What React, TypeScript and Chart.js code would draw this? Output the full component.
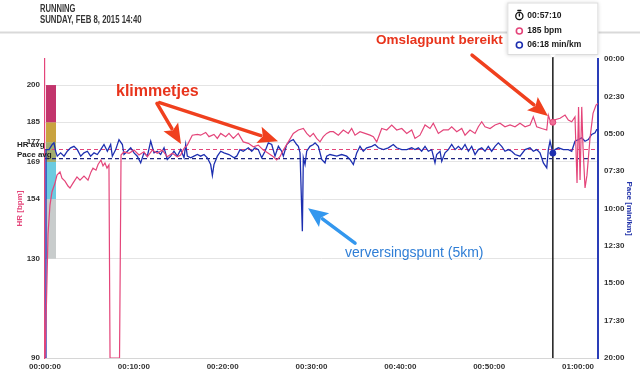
import React, { useEffect, useRef } from "react";
import { Chart, registerables } from "chart.js";

Chart.register(...registerables);

// ---- data ----
const hrMinutes = [0, 0.17, 0.34, 0.56, 0.79, 1.13, 1.35, 1.69, 1.91, 2.25, 2.59, 2.81, 3.15, 3.6, 3.94, 4.39, 4.84, 5.18, 5.4, 5.74, 5.97, 6.3, 6.53, 6.75, 6.98, 7.2, 7.32, 8.39, 8.56, 8.89, 9.46, 10.02, 10.58, 11.14, 11.52, 12.08, 12.64, 13.2, 13.77, 14.33, 14.89, 15.27, 15.65, 16.02, 16.58, 17.15, 17.52, 18.09, 18.46, 19.02, 19.4, 19.78, 20.34, 20.71, 21.2, 21.76, 22.32, 22.89, 23.45, 24.01, 24.58, 25.14, 25.7, 26.08, 26.45, 26.83, 27.39, 27.95, 28.52, 29.08, 29.46, 29.83, 30.21, 30.58, 30.96, 31.33, 31.71, 32.08, 32.46, 33.02, 33.58, 34.14, 34.52, 34.9, 35.46, 36.02, 36.59, 36.96, 37.34, 37.9, 38.47, 39.03, 39.59, 40.16, 40.72, 41.28, 41.65, 42.21, 42.78, 43.34, 43.71, 44.28, 44.84, 45.4, 45.78, 46.35, 46.91, 47.28, 47.84, 48.41, 48.78, 49.16, 49.53, 50.1, 50.66, 51.22, 51.78, 52.35, 52.91, 53.47, 54.04, 54.6, 54.97, 55.35, 55.92, 56.48, 56.66, 56.96, 57.17, 57.41, 57.98, 58.54, 58.91, 59.29, 59.66, 59.89, 60.06, 60.23, 60.42, 60.56, 60.79, 61.01, 61.35, 61.69, 62.03, 62.25];
const hrBpm = [90, 113, 140, 151.6, 157, 160.5, 163.7, 165, 162.5, 161.3, 159.3, 158.5, 160.5, 163, 161.7, 163.3, 161.7, 165, 166.5, 165.7, 168, 169.8, 167.4, 168.6, 166.5, 167.8, 90, 90, 171.8, 173.1, 172.5, 173.8, 171.8, 173.1, 171.1, 173.8, 172.5, 173.8, 171.1, 172.5, 171.1, 171.8, 174.5, 175.8, 179.8, 180.1, 179.8, 180.9, 179.2, 180.1, 178.5, 180.5, 179.2, 180.5, 178.5, 180.5, 177.1, 176.5, 175.1, 175.8, 173.8, 172.5, 171.1, 169.8, 171.1, 173.8, 177.1, 180.5, 181.9, 182.5, 180.5, 179.2, 180.5, 178.5, 177.1, 179.2, 180.5, 181.2, 181.2, 179.8, 181.9, 180.5, 182.5, 179.8, 181.2, 180.5, 179.8, 179.2, 177.1, 182.5, 181.9, 183.9, 181.9, 182.5, 180.5, 181.9, 178.5, 179.8, 183.9, 182.5, 184.6, 180.5, 181.9, 181.9, 183.2, 181.2, 182.5, 179.8, 181.9, 180.5, 183.2, 185.2, 183.2, 182.5, 183.9, 184.6, 183.2, 183.9, 183.2, 184.6, 183.2, 183.9, 187.2, 183.2, 182.5, 181.9, 187.9, 184.5, 185, 186, 186.6, 187.9, 185.9, 185.2, 187.2, 160.5, 191.2, 161.7, 191.2, 175.1, 158.5, 163.7, 178.6, 188.6, 191.9, 192.6];

const paceMinutes = [0, 0.11, 0.45, 0.82, 1.01, 1.2, 1.38, 1.76, 2.14, 2.51, 2.89, 3.26, 3.64, 4.02, 4.39, 4.77, 5.14, 5.52, 5.89, 6.27, 6.64, 7.02, 7.39, 7.58, 7.96, 8.33, 8.71, 8.89, 9.27, 9.65, 10.02, 10.39, 10.77, 11.14, 11.52, 11.9, 12.27, 12.64, 13.02, 13.4, 13.77, 14.15, 14.52, 14.89, 15.27, 15.65, 15.84, 16.02, 16.4, 16.77, 17.15, 17.52, 17.9, 18.27, 18.65, 18.84, 19.02, 19.4, 19.78, 20.15, 20.71, 21.28, 21.58, 21.95, 22.32, 22.89, 23.27, 23.64, 24.01, 24.39, 24.77, 25.14, 25.52, 25.89, 26.27, 26.64, 26.83, 27.21, 27.58, 27.95, 28.33, 28.52, 28.71, 28.97, 29.08, 29.27, 29.46, 29.83, 30.21, 30.4, 30.77, 31.15, 31.52, 31.71, 32.08, 32.84, 33.4, 33.96, 34.33, 34.71, 35.09, 35.46, 35.83, 36.21, 36.78, 37.15, 37.52, 38.09, 38.65, 39.21, 39.59, 40.16, 40.72, 41.28, 41.65, 42.03, 42.4, 42.78, 43.15, 43.53, 43.9, 44.09, 44.47, 44.66, 45.03, 45.4, 45.78, 46.16, 46.53, 46.91, 47.28, 47.66, 48.03, 48.41, 48.78, 49.16, 49.53, 49.9, 50.28, 50.66, 51.03, 51.41, 51.78, 52.16, 52.53, 52.91, 53.47, 54.04, 54.6, 54.97, 55.35, 55.72, 56.1, 56.48, 56.66, 56.85, 57.17, 57.41, 57.79, 58.35, 58.91, 59.29, 59.66, 60.04, 60.42, 60.79, 61.16, 61.54, 61.92, 62.1, 62.25];
const paceMinPerKm = [20, 6.06, 6.06, 5.72, 5.61, 6.17, 6.5, 6.28, 6.5, 6.17, 5.94, 5.84, 6.06, 6.5, 6.28, 6.17, 6.5, 6.28, 6.39, 6.06, 5.72, 6.17, 5.72, 6.5, 6.06, 5.39, 5.72, 6.39, 6.17, 5.94, 6.28, 6.5, 6.95, 6.28, 6.5, 5.5, 6.28, 6.17, 6.39, 5.94, 6.72, 6.5, 6.17, 6.5, 6.06, 6.61, 5.72, 6.5, 6.61, 6.5, 6.39, 6.5, 6.39, 6.61, 7.06, 7.79, 7.06, 6.5, 6.17, 6.28, 6.39, 6.61, 6.5, 6.06, 6.17, 5.94, 6.17, 5.94, 6.06, 6.61, 6.17, 5.61, 5.72, 6.5, 5.84, 6.17, 6.5, 5.72, 5.5, 5.39, 5.72, 5.84, 6.28, 11.52, 6.61, 7.06, 6.17, 5.84, 5.72, 5.61, 5.84, 6.72, 6.95, 6.5, 6.39, 6.5, 6.39, 6.5, 6.72, 7.06, 6.28, 5.84, 6.17, 5.94, 5.84, 5.72, 5.94, 6.06, 5.94, 5.72, 5.94, 6.06, 6.06, 5.94, 6.06, 5.94, 6.17, 5.84, 6.17, 6.06, 6.95, 6.39, 6.17, 6.84, 6.28, 6.06, 5.72, 6.06, 5.84, 6.06, 5.72, 6.17, 5.84, 6.39, 6.06, 5.94, 6.17, 5.84, 6.17, 5.84, 5.61, 5.84, 6.17, 6.06, 6.17, 6.39, 6.5, 6.06, 5.94, 6.17, 6.06, 6.28, 6.95, 7.28, 6.06, 5.5, 6.3, 6.06, 5.94, 6.06, 6.06, 6.17, 5.5, 5.39, 5.27, 5.5, 5.39, 5.05, 4.94, 4.72, 4.72];

const hrTicks = [90, 130, 154, 169, 177, 185, 200];
const paceTicks = [0, 2.5, 5, 7.5, 10, 12.5, 15, 17.5, 20];
const timeTicks = [0, 10, 20, 30, 40, 50, 60];
const zoneBounds = [130, 154, 169, 177, 185, 200];
const zoneColors = ["#c8cccc", "#6ccbe0", "#a3ad6e", "#c9a340", "#c2346c"];

const hrAvg = 174;
const paceAvg = 6 + 40 / 60;
const cursorMinute = 57 + 10 / 60;
const cursorHr = 185;
const cursorPace = 6.3;
const timeMax = 62.25;
const hrMin = 90;
const hrMax = 210.5;

const titleLine1 = "RUNNING";
const titleLine2 = "SUNDAY, FEB 8, 2015 14:40";

// annotations positioned in data units (minutes, bpm)
const noteTexts = [
  { text: "klimmetjes", t: 7.99, hr: 197.2, color: "#e8341c", font: "bold 16px 'Liberation Sans', Arial, sans-serif" },
  { text: "Omslagpunt bereikt", t: 37.26, hr: 218.1, color: "#e8341c", font: "bold 13.5px 'Liberation Sans', Arial, sans-serif" },
  { text: "verversingspunt (5km)", t: 33.77, hr: 132.3, color: "#2f7ed6", font: "14px 'Liberation Sans', Arial, sans-serif" },
];
const noteArrows = [
  { t1: 12.6, hr1: 192.6, t2: 15.31, hr2: 176.2, color: "#f0401e" },
  { t1: 12.9, hr1: 192.9, t2: 26.23, hr2: 177.4, color: "#f0401e" },
  { t1: 48.07, hr1: 212.1, t2: 56.62, hr2: 187.5, color: "#f0401e" },
  { t1: 34.9, hr1: 136.3, t2: 29.61, hr2: 150.4, color: "#3397ee" },
];

const FONT = "'Liberation Sans', Arial, sans-serif";
const HR_COLOR = "#e4457a";
const PACE_COLOR = "#1d2fb0";

const pad2 = (v: number) => String(v).padStart(2, "0");
const fmtTime = (m: number) => {
  const s = Math.round(m * 60);
  return [Math.floor(s / 3600), Math.floor((s % 3600) / 60), s % 60].map(pad2).join(":");
};
const fmtPace = (m: number) => {
  const s = Math.round(m * 60);
  return pad2(Math.floor(s / 60)) + ":" + pad2(s % 60);
};

function drawArrow(ctx: CanvasRenderingContext2D, x1: number, y1: number, x2: number, y2: number, color: string, w: number, hl: number, hw: number) {
  const a = Math.atan2(y2 - y1, x2 - x1);
  const bx = x2 - hl * Math.cos(a);
  const by = y2 - hl * Math.sin(a);
  ctx.strokeStyle = color;
  ctx.lineWidth = w;
  ctx.lineCap = "round";
  ctx.beginPath();
  ctx.moveTo(x1, y1);
  ctx.lineTo(bx + 2 * Math.cos(a), by + 2 * Math.sin(a));
  ctx.stroke();
  ctx.fillStyle = color;
  ctx.beginPath();
  ctx.moveTo(x2, y2);
  ctx.lineTo(bx + (hw / 2) * Math.sin(a), by - (hw / 2) * Math.cos(a));
  ctx.lineTo(bx + 4 * Math.cos(a), by + 4 * Math.sin(a));
  ctx.lineTo(bx - (hw / 2) * Math.sin(a), by + (hw / 2) * Math.cos(a));
  ctx.closePath();
  ctx.fill();
}

const overlayPlugin = {
  id: "overlay",
  beforeDatasetsDraw(chart: any) {
    const { ctx, chartArea, scales } = chart;
    const yHr = scales.yHr;
    ctx.save();
    for (let i = 0; i < zoneColors.length; i++) {
      const yTop = yHr.getPixelForValue(zoneBounds[i + 1]);
      const yBot = yHr.getPixelForValue(zoneBounds[i]);
      ctx.fillStyle = zoneColors[i];
      ctx.fillRect(chartArea.left + 1, yTop, 10, yBot - yTop);
    }
    const cx = scales.x.getPixelForValue(cursorMinute);
    ctx.strokeStyle = "#1a1a1a";
    ctx.lineWidth = 1.5;
    ctx.beginPath();
    ctx.moveTo(cx, chartArea.top - 2);
    ctx.lineTo(cx, chartArea.bottom);
    ctx.stroke();
    ctx.restore();
  },
  afterDraw(chart: any) {
    const { ctx, chartArea, scales } = chart;
    const xs = scales.x;
    const yHr = scales.yHr;
    ctx.save();

    // header
    ctx.fillStyle = "#d9d9d9";
    ctx.fillRect(0, 31.5, 640, 2);
    ctx.fillStyle = "#353535";
    ctx.textBaseline = "middle";
    ctx.textAlign = "left";
    ctx.font = `bold 10px ${FONT}`;
    ctx.save();
    ctx.translate(40, 9.5);
    ctx.scale(0.76, 1);
    ctx.fillText(titleLine1, 0, 0);
    ctx.restore();
    ctx.save();
    ctx.translate(40, 20.5);
    ctx.scale(0.78, 1);
    ctx.fillText(titleLine2, 0, 0);
    ctx.restore();

    // axis titles
    const midY = (chartArea.top + chartArea.bottom) / 2;
    ctx.font = `bold 8px ${FONT}`;
    ctx.textAlign = "center";
    ctx.save();
    ctx.translate(20, midY);
    ctx.rotate(-Math.PI / 2);
    ctx.fillStyle = HR_COLOR;
    ctx.fillText("HR [bpm]", 0, 0);
    ctx.restore();
    ctx.save();
    ctx.translate(629, midY);
    ctx.rotate(Math.PI / 2);
    ctx.fillStyle = "#2233aa";
    ctx.fillText("Pace [min/km]", 0, 0);
    ctx.restore();

    // avg labels
    ctx.textAlign = "left";
    ctx.fillStyle = "#222";
    ctx.font = `bold 8px ${FONT}`;
    ctx.fillText("HR avg", 17, yHr.getPixelForValue(hrAvg) - 5);
    ctx.fillText("Pace avg", 17, scales.yPace.getPixelForValue(paceAvg) - 4);

    // annotation arrows and texts
    for (const a of noteArrows) {
      drawArrow(ctx, xs.getPixelForValue(a.t1), yHr.getPixelForValue(a.hr1), xs.getPixelForValue(a.t2), yHr.getPixelForValue(a.hr2), a.color, 3.5, 20, 17);
    }
    for (const n of noteTexts) {
      ctx.font = n.font;
      ctx.fillStyle = n.color;
      ctx.textAlign = "left";
      ctx.textBaseline = "middle";
      ctx.fillText(n.text, xs.getPixelForValue(n.t), yHr.getPixelForValue(n.hr));
    }

    // tooltip
    const cx = xs.getPixelForValue(cursorMinute);
    const bx = cx - 45.5;
    const by = 2.5;
    const bw = 91;
    const bh = 52.5;
    ctx.save();
    ctx.shadowColor = "rgba(0,0,0,0.18)";
    ctx.shadowBlur = 4;
    ctx.fillStyle = "#fff";
    ctx.fillRect(bx, by, bw, bh);
    ctx.restore();
    ctx.strokeStyle = "#dcdcdc";
    ctx.lineWidth = 1;
    ctx.strokeRect(bx + 0.5, by + 0.5, bw - 1, bh - 1);
    ctx.fillStyle = "#fff";
    ctx.beginPath();
    ctx.moveTo(cx - 3, by + bh - 0.5);
    ctx.lineTo(cx, by + bh + 2.5);
    ctx.lineTo(cx + 3, by + bh - 0.5);
    ctx.closePath();
    ctx.fill();

    // stopwatch icon
    const ix = bx + 12;
    ctx.strokeStyle = "#111";
    ctx.lineWidth = 1.3;
    ctx.beginPath();
    ctx.arc(ix, 16, 3.6, 0, Math.PI * 2);
    ctx.stroke();
    ctx.beginPath();
    ctx.moveTo(ix, 16);
    ctx.lineTo(ix, 13.8);
    ctx.moveTo(ix - 1.5, 10.5);
    ctx.lineTo(ix + 1.5, 10.5);
    ctx.stroke();

    ctx.lineWidth = 1.6;
    ctx.strokeStyle = HR_COLOR;
    ctx.beginPath();
    ctx.arc(ix, 31, 3, 0, Math.PI * 2);
    ctx.stroke();
    ctx.strokeStyle = "#1d2fb0";
    ctx.beginPath();
    ctx.arc(ix, 45, 3, 0, Math.PI * 2);
    ctx.stroke();

    ctx.fillStyle = "#1a1a1a";
    ctx.font = `bold 8.5px ${FONT}`;
    ctx.textAlign = "left";
    ctx.textBaseline = "middle";
    ctx.fillText(fmtTime(cursorMinute), bx + 20, 16);
    ctx.fillText(`${cursorHr} bpm`, bx + 20, 31);
    ctx.fillText(`${fmtPace(cursorPace)} min/km`, bx + 20, 45);

    ctx.restore();
  },
};

export default function App() {
  const ref = useRef<HTMLCanvasElement>(null);
  useEffect(() => {
    const hrData = hrMinutes.map((t, i) => ({ x: t, y: hrBpm[i] }));
    const paceData = paceMinutes.map((t, i) => ({ x: t, y: paceMinPerKm[i] }));
    const tickFont = { family: FONT, size: 8, weight: "bold" as const };
    const chart = new Chart(ref.current as HTMLCanvasElement, {
      type: "line",
      data: {
        datasets: [
          { label: "HR cursor", data: [{ x: cursorMinute, y: cursorHr }], yAxisID: "yHr", showLine: false, pointRadius: 3, pointBackgroundColor: "#ee6f96", pointBorderColor: HR_COLOR, pointBorderWidth: 1, order: 0 },
          { label: "Pace cursor", data: [{ x: cursorMinute, y: cursorPace }], yAxisID: "yPace", showLine: false, pointRadius: 3, pointBackgroundColor: PACE_COLOR, pointBorderColor: PACE_COLOR, pointBorderWidth: 1, order: 0 },
          { label: "HR", data: hrData, yAxisID: "yHr", borderColor: HR_COLOR, borderWidth: 1.2, pointRadius: 0, tension: 0, fill: false, order: 1 },
          { label: "Pace", data: paceData, yAxisID: "yPace", borderColor: PACE_COLOR, borderWidth: 1.3, pointRadius: 0, tension: 0, fill: false, order: 2 },
          { label: "HR avg", data: [{ x: 0, y: hrAvg }, { x: timeMax, y: hrAvg }], yAxisID: "yHr", borderColor: HR_COLOR, borderWidth: 1.1, borderDash: [4, 3], pointRadius: 0, order: 3 },
          { label: "Pace avg", data: [{ x: 0, y: paceAvg }, { x: timeMax, y: paceAvg }], yAxisID: "yPace", borderColor: "#1a237e", borderWidth: 1.2, borderDash: [4, 3], pointRadius: 0, order: 3 },
        ],
      },
      options: {
        animation: false,
        responsive: false,
        events: [],
        layout: { padding: { top: 59, left: 0, right: 0, bottom: 0 } },
        plugins: { legend: { display: false }, tooltip: { enabled: false } },
        scales: {
          x: {
            type: "linear",
            min: 0,
            max: timeMax,
            afterBuildTicks: (s: any) => { s.ticks = timeTicks.map((v) => ({ value: v })); },
            afterFit: (s: any) => { s.height = 17; },
            ticks: { callback: (v: any) => fmtTime(Number(v)), font: tickFont, color: "#333", maxRotation: 0, autoSkip: false, padding: 4 },
            grid: { display: false, drawTicks: false },
            border: { color: "#d6d6d6", width: 1 },
          },
          yHr: {
            type: "linear",
            position: "left",
            min: hrMin,
            max: hrMax,
            afterBuildTicks: (s: any) => { s.ticks = hrTicks.map((v) => ({ value: v })); },
            afterFit: (s: any) => { s.width = 45; },
            ticks: { font: tickFont, color: "#333", padding: 5 },
            grid: { color: "#e4e4e4", drawTicks: false },
            border: { color: HR_COLOR, width: 1.2 },
          },
          yPace: {
            type: "linear",
            position: "right",
            min: 0,
            max: 20,
            reverse: true,
            afterBuildTicks: (s: any) => { s.ticks = paceTicks.map((v) => ({ value: v })); },
            afterFit: (s: any) => { s.width = 42; },
            ticks: { callback: (v: any) => fmtPace(Number(v)), font: tickFont, color: "#333", padding: 6 },
            grid: { display: false, drawTicks: false },
            border: { color: "#2a3db8", width: 2 },
          },
        },
      },
      plugins: [overlayPlugin],
    } as any);
    return () => chart.destroy();
  }, []);
  return (
    <div style={{ position: "absolute", left: 0, top: 0, width: 640, height: 375, background: "#fff" }}>
      <canvas ref={ref} width={640} height={375} style={{ width: 640, height: 375, display: "block" }} />
    </div>
  );
}
